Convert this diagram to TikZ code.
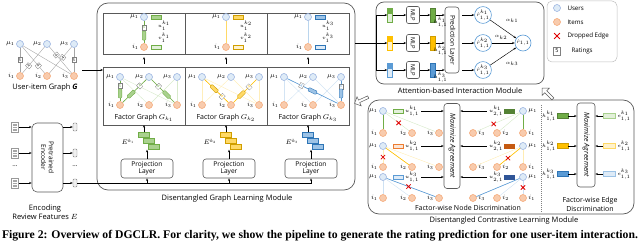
\RequirePackage{fix-cm}
\documentclass[tikz,border=0pt]{standalone}
\usepackage{graphicx}
\usepackage{fontspec}
\setmainfont{Open Sans}
\newfontfamily\capfont{Liberation Serif}
\usetikzlibrary{arrows.meta,shapes.arrows,shapes.misc,calc}

\definecolor{ublue}{HTML}{DEEBF7}
\definecolor{ubord}{HTML}{8FAADC}
\definecolor{ifill}{HTML}{F8CBAD}
\definecolor{ibord}{HTML}{F4A16C}
\definecolor{gdark}{HTML}{70AD47}
\definecolor{gmid}{HTML}{A9D18E}
\definecolor{glight}{HTML}{E2F0D9}
\definecolor{ydark}{HTML}{FFC000}
\definecolor{ymid}{HTML}{FFD966}
\definecolor{ylight}{HTML}{FFF2CC}
\definecolor{ybord}{HTML}{D09E00}
\definecolor{bdark}{HTML}{5B9BD5}
\definecolor{bmid}{HTML}{9DC3E6}
\definecolor{blight}{HTML}{DEEBF7}
\definecolor{bbord}{HTML}{2E75B6}
\definecolor{olight}{HTML}{FBE5D6}
\definecolor{obord}{HTML}{ED7D31}
\definecolor{gdeep}{HTML}{548235}
\definecolor{odeep}{HTML}{C55A11}
\definecolor{bdeep}{HTML}{2F5597}
\definecolor{frame}{HTML}{595959}
\definecolor{xred}{HTML}{E00000}

\tikzset{
  x=1pt, y=-1pt,
  label distance=1.2pt,
  txt/.style={font=\fontsize{7.5}{9}\selectfont, inner sep=0.5pt, align=center},
  btxt/.style={font=\fontsize{6.6}{7.6}\selectfont, inner sep=0.5pt, align=center},
  lab/.style={font=\fontsize{6.5}{7.5}\selectfont, inner sep=0.3pt},
  sml/.style={font=\fontsize{5}{6}\selectfont, inner sep=0.2pt},
  user/.style={circle, draw=ubord, fill=ublue, minimum size=7pt, inner sep=0pt, line width=0.5pt},
  item/.style={circle, draw=ibord, fill=ifill, minimum size=7pt, inner sep=0pt, line width=0.5pt},
  rbox/.style={draw=gray, fill=white, font=\fontsize{3.8}{4}\selectfont, inner sep=0.3pt, minimum width=4pt, minimum height=5pt, line width=0.3pt},
  ebar/.style={rounded corners=0.8pt, minimum width=9pt, minimum height=3.6pt, inner sep=0pt, line width=0.4pt, sloped},
  vec/.style={minimum width=10pt, minimum height=4pt, inner sep=0pt, line width=0.4pt},
  panel/.style={draw=frame, line width=0.6pt, inner sep=0pt, outer sep=0pt},
  module/.style={draw=frame, rounded corners=11pt, line width=0.7pt, inner sep=0pt},
  rbx/.style={draw=frame, rounded corners=3pt, line width=0.6pt, inner sep=0pt},
  arr/.style={-{Stealth[length=2.6pt,width=2.1pt]}, line width=0.45pt},
  xm/.style={cross out, draw=xred, line width=0.8pt, minimum size=3.5pt, inner sep=0pt},
  gline/.style={line width=0.4pt, draw=gray!70},
  doc/.style={draw=gray!80, fill=white, minimum width=7pt, minimum height=10pt, inner sep=0pt, line width=0.4pt,
    path picture={\foreach \f in {0.22,0.38,0.54,0.7,0.84}{\draw[gray!70, line width=0.7pt] ($(path picture bounding box.north west)!\f!(path picture bounding box.south west)+(1.3pt,0)$) -- ++(4.4pt,0);}}},
  encv/.style={draw=gray, fill=gray!12, rounded corners=1pt, minimum width=4pt, minimum height=8pt, inner sep=0pt, line width=0.4pt},
  twotone/.style 2 args={draw=#1, fill=#2, minimum width=5pt, minimum height=14pt, inner sep=0pt, line width=0.4pt,
    path picture={\fill[#1] (path picture bounding box.north west) rectangle ($(path picture bounding box.east)+(0,1pt)$);}},
  hvec/.style={minimum width=5pt, minimum height=14pt, inner sep=0pt, line width=0.4pt},
  rcirc/.style={circle, draw=bdark, fill=white, line width=0.6pt, minimum size=16pt, inner sep=0pt, font=\fontsize{5}{6}\selectfont},
  harrow/.style={single arrow, draw=frame, fill=white, line width=0.5pt, minimum height=15pt, minimum width=10pt, single arrow head extend=2pt, inner sep=0.5pt},
}

\begin{document}
\begin{tikzpicture}
\useasboundingbox (0,0) rectangle (640,243);

%% ===== User-item graph
\foreach \n/\x in {1/20,2/47,3/74}{
  \node[user, label={[lab]left:$\mu_{\n}$}] (gU\n) at (\x,44) {};
  \node[item, label={[lab]left:$i_{\n}$}] (gI\n) at (\x,76) {};
}
\draw[gline] (gU1) -- (gI3);
\draw[gline] (gU1) -- node[rbox,pos=.5]{5} (gI1);
\draw[gline] (gU2) -- node[rbox,sloped,pos=.72]{4} (gI1);
\draw[gline] (gU1) -- node[rbox,sloped,pos=.72]{4} (gI2);
\draw[gline] (gU2) -- node[rbox,sloped,pos=.31]{4} (gI3);
\draw[gline] (gU3) -- node[rbox,sloped,pos=.4]{4} (gI2);
\draw[gline] (gU3) -- node[rbox,pos=.5]{5} (gI3);
\node[txt] (gLab) at (45,88) {User-item Graph \textbf{\textit{G}}};

%% ===== Graph learning module
\node[module, minimum width=258pt, minimum height=187pt] (GM) at (226,96.5) {};
\node[txt] (GMl) at (227,199) {Disentangled Graph Learning Module};
\foreach \n/\cx in {1/144,2/226,3/308}{
  \node[panel, minimum width=82pt, minimum height=41pt] (T\n) at (\cx,33.5) {};
  \node[panel, minimum width=82pt, minimum height=58pt] (F\n) at (\cx,96) {};
  \draw[arr, shorten <=3pt, shorten >=3pt] (F\n.north) -- (T\n.south);
  \node[txt, font=\fontsize{7}{8}\selectfont] (Fl\n) at (\cx,118) {Factor Graph $G_{k_\n}$};
}
\coordinate (gOut) at (82,70);
\draw[arr] (gOut) -- (gOut -| F1.west);

% top panels
\foreach \n/\cx/\cu/\cv/\cb in {1/144/gmid/glight/gdark,2/226/ymid/ylight/ybord,3/308/bmid/blight/bbord}{
  \node[user, label={[lab]left:$\mu_1$}] (tu\n) at (\cx,17) {};
  \node[item, label={[lab]left:$i_1$}] (ti\n) at (\cx,47) {};
  \node[vec, draw=\cb, fill=\cu] (tuv\n) at (\cx+12,17) {};
  \node[vec, draw=\cb, fill=\cv] (tvv\n) at (\cx+12,47) {};
  \node[sml] (tul\n) at (\cx+20,25.5) {$u_1^{k_\n}$};
  \node[sml] (tvl\n) at (\cx+20,38) {$v_1^{k_\n}$};
}
\draw[gdark, line width=0.6pt] (tu1) -- node[rbox,pos=.3]{5} node[ebar,pos=.66,draw=gdark,fill=gmid]{} (ti1);
\draw[ymid, line width=0.6pt] (tu2) -- (ti2);
\draw[bmid!70, line width=0.6pt] (tu3) -- (ti3);

% factor graph panels
\foreach \n/\cx/\cf in {1/144/gmid,2/226/ymid,3/308/bmid}{
  \foreach \k/\dx in {1/-24,2/5,3/33}{
    \node[user, label={[lab]left:$\mu_{\k}$}] (fu\n\k) at (\cx+\dx,77) {};
    \node[item, label={[lab]left:$i_{\k}$}] (fi\n\k) at (\cx+\dx,105) {};
  }
  \foreach \a/\b in {1/1,1/2,1/3,2/1,2/3,3/2,3/3}{
    \draw[\cf!45, line width=0.4pt] (fu\n\a) -- (fi\n\b);
  }
}
\draw[gdark, line width=0.6pt] (fu11) -- node[rbox,pos=.25]{5} node[ebar,pos=.62,draw=gdark,fill=gmid]{} (fi11);
\draw[gdark, line width=0.6pt] (fu12) -- node[rbox,sloped,pos=.28]{4} node[ebar,pos=.64,draw=gdark,fill=gmid]{} (fi11);
\draw[gdark, line width=0.6pt] (fu12) -- node[rbox,sloped,pos=.3]{4} node[ebar,pos=.66,draw=gdark,fill=gmid]{} (fi13);
\draw[ydark, line width=0.6pt] (fu21) -- node[ebar,pos=.4,draw=ybord,fill=ymid]{} node[rbox,sloped,pos=.74]{4} (fi22);
\draw[ydark, line width=0.6pt] (fu23) -- node[rbox,sloped,pos=.32]{4} node[ebar,pos=.66,draw=ybord,fill=ymid]{} (fi22);
\draw[bdark, line width=0.6pt] (fu31) -- node[rbox,sloped,pos=.28]{4} node[ebar,pos=.5,draw=bbord,fill=bmid]{} (fi33);
\draw[bdark, line width=0.6pt] (fu33) -- node[rbox,pos=.28]{5} node[ebar,pos=.62,draw=bbord,fill=bmid]{} (fi33);

% stacks and projection layers
\foreach \n/\cx/\cf/\cb in {1/144/gmid/gdark,2/226/ymid/ybord,3/308/bmid/bbord}{
  \node[rbx, minimum width=52pt, minimum height=19pt, btxt] (P\n) at (\cx+3,168.5) {Projection\\Layer};
  \foreach \k in {1,2,3}{
    \node[draw=\cb, fill=\cf, minimum width=11pt, minimum height=5pt, inner sep=0pt, line width=0.4pt] (S\n\k) at (\cx+5*\k-5,135+6*\k-6) {};
  }
  \node[lab] (Sl\n) at (\cx-16,142) {$E^{k_\n}$};
  \draw[arr] (P\n.north) -- (P\n.north |- S\n3.south);
  \draw[arr] (F\n.south |- S\n1.north) -- (F\n.south);
}

%% ===== Encoding
\foreach \n/\y in {1/127,2/153,3/183}{
  \node[doc] (D\n) at (15,\y) {};
  \node[encv] (V\n) at (75,\y) {};
}
\node[rbx, rounded corners=5pt, minimum width=31pt, minimum height=69pt] (ENC) at (47.5,157.5) {};
\node[btxt, rotate=-90] (ENCt) at (ENC.center) {Pretrained\\Encoder};
\foreach \n in {1,2,3}{
  \draw[arr] (D\n.east) -- (D\n.east -| ENC.west);
  \draw[arr] (ENC.east |- V\n) -- (V\n.west);
}
\node[lab] (dotsA) at (15,166) {...};
\node[lab] (dotsB) at (75,166) {...};
\node[txt] (EncL) at (45,212.5) {Encoding\\Review Features $E$};
\draw[arr] (V3.east) -- (V3.east -| P3.south) -- (P3.south);
\draw[arr] (V3.east -| P1.south) -- (P1.south);
\draw[arr] (V3.east -| P2.south) -- (P2.south);

%% ===== Attention-based interaction module
\node[module, rounded corners=8pt, minimum width=168pt, minimum height=82pt] (AM) at (460,43) {};
\node[txt] (AMl) at (460,91) {Attention-based Interaction Module};
\node[rbx, minimum width=14pt, minimum height=66pt] (PL) at (452,40) {};
\node[btxt, rotate=-90] (PLt) at (PL.center) {Prediction Layer};
\coordinate (gmo) at (355,43);
\coordinate (spl) at (376,43);
\foreach \n/\y/\cd/\cl/\chb in {1/15/gdark/glight/gdeep,2/43/ydark/ylight/ybord,3/70/bdark/blight/bbord}{
  \node[twotone={\cd}{\cl}] (A\n) at (390,\y) {};
  \node[rbx, rounded corners=2pt, minimum width=13pt, minimum height=17pt] (M\n) at (413,\y) {};
  \node[sml, rotate=-90, font=\fontsize{5.8}{6}\selectfont] (Mt\n) at (M\n.center) {MLP};
  \node[hvec, draw=\chb, fill=\cd] (H\n) at (433,\y) {};
  \node[sml] (hl\n) at (440.5,\y+7.5) {$h^{k_\n}_{1,1}$};
  \node[rcirc] (R\n) at (483,\y) {$\hat{r}^{k_\n}_{1,1}$};
  \draw[arr] (spl |- A\n) -- (A\n.west);
  \draw[arr] (A\n.east) -- (M\n.west);
  \draw[arr] (M\n.east) -- (H\n.west);
  \draw[arr] (H\n.east) -- (PL.west |- H\n);
  \draw[arr, shorten <=3pt] (PL.east |- R\n) -- (R\n.west);
}
\draw[line width=0.45pt] (gmo) -- (spl);
\draw[line width=0.45pt] (spl |- A1) -- (spl |- A3);
\node[rcirc] (RR) at (523,43) {${\hat{r}}_{1,1}$};
\draw[arr] (R1) -- (RR);
\draw[arr] (R2) -- (RR);
\draw[arr] (R3) -- (RR);
\node[sml] (al1) at (512,21) {$\alpha_{k1}$};
\node[sml] (al2) at (501,37.5) {$\alpha_{k2}$};
\node[sml] (al3) at (512,64) {$\alpha_{k3}$};

%% ===== Legend
\node[draw=gray!50, rounded corners=5pt, minimum width=70pt, minimum height=61pt, line width=0.5pt, inner sep=0pt] (LG) at (582,31.5) {};
\node[user] (lgU) at (557,8) {};
\node[item] (lgI) at (557,22) {};
\node[xm, minimum size=5pt] (lgX) at (557,36) {};
\node[rbox, minimum width=7pt, minimum height=8pt, font=\fontsize{5.5}{6}\selectfont] (lgR) at (557,51) {5};
\node[lab, anchor=west, font=\fontsize{6.2}{7}\selectfont] (lgUt) at (567,8) {Users};
\node[lab, anchor=west, font=\fontsize{6.2}{7}\selectfont] (lgIt) at (567,22) {Items};
\node[lab, anchor=west, font=\fontsize{6.2}{7}\selectfont] (lgXt) at (567,36) {Dropped Edge};
\node[lab, anchor=west, font=\fontsize{6.2}{7}\selectfont] (lgRt) at (571,51) {Ratings};

%% ===== Hollow arrows
\node[harrow, rotate=205] (HA1) at (362,100) {};
\node[harrow, rotate=135] (HA2) at (548,94) {};

%% ===== Contrastive module
\node[module, minimum width=266pt, minimum height=114pt] (CM) at (501,157) {};
\node[txt] (CMl) at (504,221) {Disentangled Contrastive Learning Module};
\coordinate (sepT) at (541,105);
\coordinate (sepB) at (541,213);
\draw[gray, line width=0.4pt, dash pattern=on 1pt off 1pt] (sepT) -- (sepB);
\node[rbx, minimum width=16pt, minimum height=85pt] (MA1) at (452,146) {};
\node[txt, rotate=-90, font=\fontsize{7}{8}\selectfont\itshape] (MA1t) at (MA1.center) {Maximize Agreement};

\foreach \r/\uy/\iy/\cl/\cb/\cd/\cf in {1/111/133/glight/gdark/gdeep/gmid,2/146/167/olight/obord/odeep/ymid,3/177/198/blight/bdark/bdeep/bmid}{
  \node[user, label={[lab]left:$\mu_1$}] (Lu\r) at (383,\uy) {};
  \node[item, label={[lab]left:$i_1$}] (Li\r1) at (383,\iy) {};
  \node[item, label={[lab]left:$i_2$}] (Li\r2) at (412,\iy) {};
  \node[item, label={[lab]left:$i_3$}] (Li\r3) at (439,\iy) {};
  \node[vec, draw=\cb, fill=\cl] (Lv\r) at (398,\uy) {};
  \node[sml] (Lvl\r) at (412,\uy) {$u^{k_\r}_{1,1}$};
  \draw[arr, shorten <=2pt] (Lvl\r.east) -- (MA1.west |- Lvl\r);
  \node[user, label={[lab]right:$\mu_1$}] (Ru\r) at (523,\uy) {};
  \node[item, label={[lab]right:$i_1$}] (Ri\r1) at (523,\iy) {};
  \node[item, label={[lab]right:$i_2$}] (Ri\r2) at (497,\iy) {};
  \node[item, label={[lab]right:$i_3$}] (Ri\r3) at (473,\iy) {};
  \node[vec, draw=\cd, fill=\cd] (Rv\r) at (509,\uy) {};
  \node[sml] (Rvl\r) at (496,\uy) {$u^{k_\r}_{2,1}$};
  \draw[arr, shorten <=2pt] (Rvl\r.west) -- (MA1.east |- Rvl\r);
  \foreach \k in {1,2,3}{
    \draw[\cf!50, line width=0.4pt] (Lu\r) -- (Li\r\k);
    \draw[\cf!50, line width=0.4pt] (Ru\r) -- (Ri\r\k);
  }
}
\draw[gdark, line width=0.6pt] (Lu1) -- (Li11);
\path (Lu1) -- node[xm, pos=.55] (xA){} (Li12);
\draw[ydark, line width=0.6pt] (Lu2) -- (Li22);
\path (Lu2) -- node[xm, pos=.55] (xB){} (Li21);
\draw[bdark, line width=0.6pt] (Lu3) -- node[xm, pos=.45] (xC){} (Li33);
\draw[gdark, line width=0.6pt] (Ru1) -- (Ri11);
\path (Ru1) -- node[xm, pos=.6] (xD){} (Ri13);
\draw[ydark, line width=0.6pt] (Ru2) -- node[xm, pos=.6] (xE){} (Ri22);
\draw[bdark, line width=0.6pt] (Ru3) -- (Ri33);
\path (Ru3) -- node[xm, pos=.5] (xF){} (Ri31);
\node[txt, font=\fontsize{7}{8}\selectfont] (NDl) at (468,208) {Factor-wise Node Discrimination};

% edge discrimination
\node[rbx, minimum width=18pt, minimum height=84pt] (MA2) at (586,145) {};
\node[txt, rotate=-90, font=\fontsize{7}{8}\selectfont\itshape] (MA2t) at (MA2.center) {Maximize Agreement};
\foreach \r/\y/\cd/\cdb/\cl/\clb in {1/116/gdark/gdeep/glight/gmid,2/146/ydark/ybord/ylight/ymid,3/174/bdark/bbord/blight/bmid}{
  \node[vec, minimum width=11pt, minimum height=5pt, draw=\cdb, fill=\cd] (EL\r) at (562.5,\y) {};
  \node[sml] (ELl\r) at (549,\y) {$h^{k_\r}_{1,1}$};
  \node[vec, minimum width=12pt, minimum height=5pt, draw=\clb, fill=\cl] (ER\r) at (609,\y) {};
  \node[sml] (ERl\r) at (624,\y) {$e^{k_\r}_{1,1}$};
  \draw[arr] (EL\r.east) -- (MA2.west |- EL\r);
  \draw[arr] (ER\r.west) -- (MA2.east |- ER\r);
}
\node[txt, font=\fontsize{7}{8.5}\selectfont] (EDl) at (590,204.5) {Factor-wise Edge\\Discrimination};

%% ===== Caption
\node[inner sep=0pt] (cap) at (320,235.5) {\resizebox{636pt}{!}{\capfont\bfseries Figure 2: Overview of DGCLR. For clarity, we show the pipeline to generate the rating prediction for one user-item interaction.}};
\end{tikzpicture}
\end{document}
